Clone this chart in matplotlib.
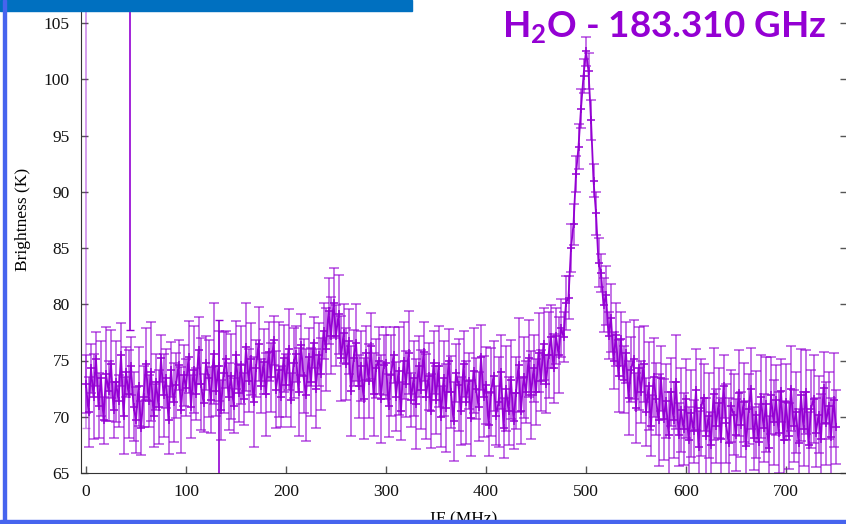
"""Water line spectrum, 183.310 GHz: brightness against IF with error bars."""
import numpy as np
import matplotlib.pyplot as plt
from matplotlib.patches import Rectangle

# channel grid, one point every 2.5 MHz from 0 to 750 MHz
IF_MHZ = np.arange(0, 750.1, 2.5)

# brightness temperature (K), 50 MHz per row
BRIGHTNESS = [
    72.9, 70.4, 74.3, 71.8, 75.1, 71.0, 73.4, 69.7, 73.8, 72.3, 74.7, 70.6, 73.1, 71.4, 75.5, 70.1, 74.0, 72.0, 74.5, 70.9,
    69.7, 72.7, 69.0, 71.8, 74.7, 71.4, 74.0, 70.1, 73.1, 70.9, 75.2, 71.9, 73.4, 69.7, 74.2, 71.3, 72.8, 74.6, 70.6, 73.7,
    72.6, 75.3, 70.9, 74.2, 72.0, 75.9, 72.9, 71.2, 74.8, 73.4, 71.5, 75.6, 72.3, 74.5, 70.6, 73.9, 75.1, 71.8, 73.6, 71.0,
    75.5, 72.1, 74.6, 71.6, 76.2, 73.2, 75.1, 71.3, 74.3, 76.5, 72.7, 74.9, 72.0, 75.8, 73.5, 76.8, 72.4, 74.2, 71.8, 75.2,
    72.8, 76.0, 71.5, 74.8, 75.6, 72.2, 76.4, 73.6, 71.9, 75.3, 73.1, 76.6, 72.5, 75.5, 73.8, 77.6, 76.0, 79.4, 77.2, 80.1,
    77.2, 79.1, 75.2, 77.4, 74.7, 76.7, 72.3, 75.2, 76.6, 72.7, 74.5, 71.6, 75.7, 73.2, 76.3, 72.0, 74.3, 75.0, 71.6, 74.6,
    74.8, 71.0, 73.7, 75.5, 71.8, 74.1, 70.5, 75.0, 72.9, 75.7, 71.5, 73.4, 71.1, 74.5, 72.4, 75.8, 71.8, 73.6, 70.5, 74.8,
    71.5, 74.5, 70.0, 73.4, 70.8, 75.0, 72.2, 69.6, 73.9, 72.8, 70.5, 74.7, 71.3, 73.2, 69.9, 74.1, 72.5, 70.9, 75.3, 71.8,
    72.8, 69.3, 72.2, 73.6, 70.1, 71.3, 74.0, 69.0, 72.5, 70.5, 73.3, 69.6, 72.1, 74.6, 70.5, 73.5, 72.2, 75.2, 71.9, 74.3,
    72.2, 75.7, 73.2, 76.5, 72.9, 75.5, 77.1, 74.3, 77.2, 75.5, 77.9, 77.1, 80.1, 80.6, 85.0, 87.1, 91.6, 94.0, 97.4, 100.3,
    102.5, 100.7, 96.4, 91.0, 88.1, 83.7, 82.8, 79.9, 80.8, 77.2, 78.8, 75.0, 77.3, 73.6, 76.9, 73.3, 75.7, 71.7, 74.2, 75.1,
    70.8, 74.3, 72.2, 74.7, 70.4, 72.7, 69.2, 73.5, 71.6, 69.7, 73.4, 69.8, 71.4, 68.4, 72.2, 69.7, 73.1, 68.4, 70.6, 68.9,
    71.6, 67.9, 70.3, 68.7, 72.4, 67.3, 70.8, 71.7, 68.3, 70.1, 67.5, 72.0, 69.2, 71.2, 68.0, 72.7, 69.4, 67.7, 71.0, 70.2,
    68.4, 72.1, 69.3, 71.3, 67.4, 70.7, 72.5, 68.1, 70.2, 67.8, 71.8, 69.0, 71.1, 67.2, 71.9, 69.5, 71.5, 68.6, 72.3, 67.9,
    71.3, 68.3, 72.5, 69.2, 70.4, 67.7, 71.9, 68.9, 72.2, 67.5, 70.7, 71.6, 68.6, 70.2, 68.0, 72.6, 69.4, 71.0, 68.2, 71.5,
    69.1,
]

# one-sigma error (K), same layout
ERROR = [
    2.6, 3.1, 2.2, 3.8, 2.4, 2.9, 3.3, 2.1, 4.2, 2.7, 3.0, 2.5, 3.6, 2.3, 2.8, 3.4, 2.2, 3.9, 2.6, 3.1,
    2.9, 3.5, 2.4, 2.7, 3.2, 2.3, 4.4, 2.8, 2.5, 3.3, 2.1, 3.7, 2.6, 3.0, 2.4, 3.5, 2.9, 2.2, 3.8, 2.7,
    2.5, 3.2, 2.8, 3.9, 2.3, 3.0, 4.1, 2.6, 2.4, 3.4, 2.9, 4.5, 2.2, 3.1, 2.7, 3.6, 2.5, 3.0, 3.8, 2.4,
    3.0, 2.6, 3.5, 2.3, 3.9, 2.8, 3.2, 4.0, 2.5, 3.3, 2.4, 2.9, 3.7, 2.6, 3.1, 2.2, 3.4, 4.2, 2.7, 3.0,
    2.8, 3.6, 2.4, 3.1, 2.5, 3.9, 2.7, 3.3, 4.1, 2.6, 3.0, 2.3, 3.5, 2.8, 3.2, 2.5, 3.7, 2.9, 3.4, 3.1,
    2.7, 3.5, 3.8, 2.6, 3.2, 2.9, 4.0, 2.5, 3.4, 2.8, 3.1, 3.6, 2.4, 3.3, 2.9, 3.7, 2.6, 3.0, 3.9, 2.7,
    3.2, 2.8, 3.6, 2.5, 3.1, 3.9, 2.6, 3.4, 2.9, 3.7, 2.4, 3.3, 4.0, 2.7, 3.5, 2.6, 3.8, 3.0, 3.3, 2.8,
    3.0, 3.6, 2.7, 3.3, 3.9, 2.8, 3.2, 3.5, 2.6, 4.1, 3.0, 2.9, 3.7, 2.5, 3.4, 3.8, 2.7, 3.1, 2.9, 3.6,
    3.4, 2.8, 3.9, 3.1, 2.6, 4.0, 3.3, 2.7, 3.8, 3.0, 3.5, 2.5, 3.2, 4.2, 2.9, 3.6, 2.8, 3.4, 3.9, 3.0,
    2.9, 3.5, 2.7, 3.2, 2.6, 3.8, 2.8, 3.1, 2.5, 3.4, 2.6, 2.2, 2.4, 1.9, 2.1, 1.8, 1.6, 2.0, 1.7, 1.5,
    1.3, 1.6, 1.8, 1.5, 1.9, 2.2, 1.7, 2.4, 2.6, 2.1, 3.0, 2.5, 2.8, 3.2, 2.4, 3.0, 2.7, 3.3, 2.9, 3.5,
    3.1, 3.7, 2.8, 3.4, 3.0, 3.9, 2.7, 3.5, 3.2, 4.1, 2.9, 3.6, 3.3, 3.8, 3.0, 3.4, 4.2, 2.8, 3.7, 3.2,
    3.5, 3.0, 3.9, 2.8, 3.6, 3.2, 4.3, 3.0, 3.4, 3.8, 2.9, 4.1, 3.3, 3.1, 3.7, 2.8, 3.5, 4.0, 3.2, 3.6,
    3.2, 3.8, 2.9, 3.5, 4.0, 3.1, 3.6, 2.8, 3.9, 3.3, 3.7, 3.0, 4.2, 2.9, 3.4, 3.8, 3.1, 3.6, 2.8, 3.5,
    3.4, 2.9, 3.8, 3.2, 3.6, 3.0, 4.1, 3.3, 3.7, 2.9, 3.5, 3.9, 3.1, 3.4, 4.0, 3.2, 3.7, 3.0, 3.5, 4.2,
    3.3,
]

# bad channels with huge error bars
SPIKE_MHZ = [0, 44, 133]
SPIKE_K = [115.0, 120.0, 50.0]
SPIKE_ERR = [46.0, 42.3, 28.6]

PURPLE = "#9400D3"

plt.rcParams["font.family"] = ["Liberation Serif", "DejaVu Serif"]
plt.rcParams["mathtext.fontset"] = "custom"
plt.rcParams["mathtext.rm"] = "Lato:bold"
plt.rcParams["mathtext.bf"] = "Lato:bold"

W, H = 846, 524
fig = plt.figure(figsize=(W / 100, H / 100), dpi=100)
# axes run off the top and right of the screenshot
ax = fig.add_axes([81 / W, 51 / H, (847 - 81) / W, 506.25 / H])

ax.errorbar(IF_MHZ, BRIGHTNESS, yerr=ERROR, fmt="none", ecolor=PURPLE,
            elinewidth=1.1, capsize=3.5, capthick=1.1, alpha=0.7, zorder=2)
ax.plot(IF_MHZ, BRIGHTNESS, color=PURPLE, lw=1.3, marker="+", ms=6, mew=1.1, zorder=3)
ax.errorbar(SPIKE_MHZ[:1], SPIKE_K[:1], yerr=SPIKE_ERR[:1], fmt="none",
            ecolor=PURPLE, elinewidth=1.2, alpha=0.45, capsize=3, zorder=2)
ax.errorbar(SPIKE_MHZ[1:], SPIKE_K[1:], yerr=SPIKE_ERR[1:], fmt="none",
            ecolor=PURPLE, elinewidth=1.2, capsize=3, zorder=3)

ax.set_xlim(-5, 761)
ax.set_ylim(65, 110)
ax.set_xticks(range(0, 701, 100))
ax.set_yticks(range(65, 106, 5))
ax.tick_params(direction="in", length=5, width=1, color="#555555",
               labelsize=12.5, labelcolor="#111111", right=True, pad=8)
for side in ("left", "bottom"):
    ax.spines[side].set_color("#333333")
ax.spines["top"].set_visible(False)
ax.set_ylabel("Brightness (K)", fontsize=12.5, labelpad=9)
ax.set_xlabel("IF (MHz)", fontsize=12.5, labelpad=8)

fig.text(502 / W, 1 - 38 / H, r"H$_{\mathrm{2}}$O - 183.310 GHz", color=PURPLE,
         family=["Lato", "DejaVu Sans"], fontweight="bold", fontsize=26.5,
         ha="left", va="baseline")

# slide frame around the screenshot
fig.add_artist(Rectangle((0, 1 - 11 / H), 412 / W, 11 / H, color="#0070C0",
                         transform=fig.transFigure, zorder=10))
fig.add_artist(Rectangle((2.5 / W, 0), 3.5 / W, 1, color="#4664EE",
                         transform=fig.transFigure, zorder=10))
fig.add_artist(Rectangle((0, 0), 1, 4 / H, color="#4664EE",
                         transform=fig.transFigure, zorder=10))

fig.savefig("out.png", dpi=100)
